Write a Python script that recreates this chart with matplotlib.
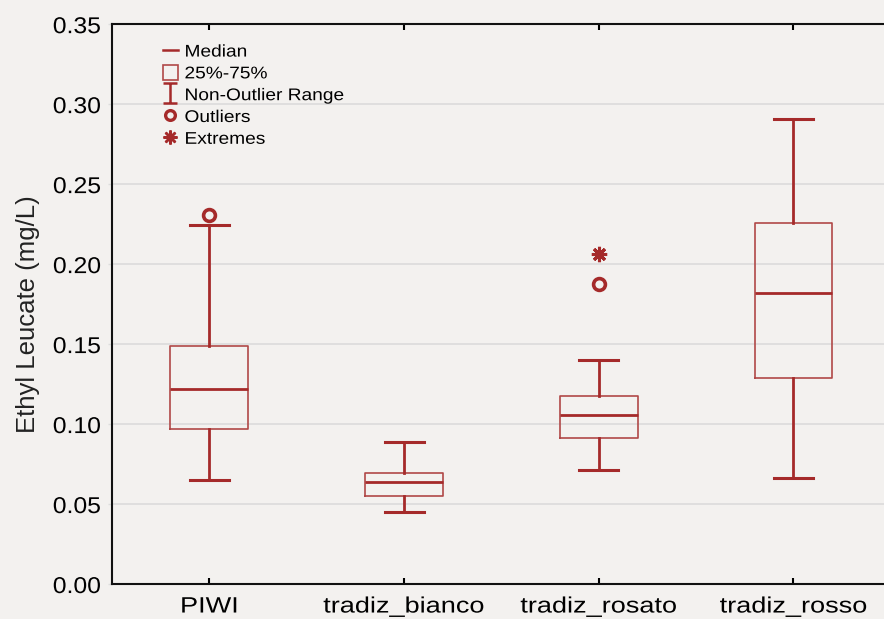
import matplotlib
matplotlib.use("Agg")
import matplotlib.pyplot as plt
from matplotlib.lines import Line2D
from matplotlib.patches import Rectangle
from matplotlib.path import Path
from matplotlib.patheffects import AbstractPathEffect
from matplotlib.transforms import Affine2D
import numpy as np

plt.rcParams['font.family'] = ['Liberation Sans', 'DejaVu Sans']

categories = ["PIWI", "tradiz_bianco", "tradiz_rosato", "tradiz_rosso"]
whisker_low = [0.065, 0.045, 0.0713, 0.0663]
q1 = [0.0969, 0.0550, 0.0913, 0.1288]
median = [0.1220, 0.0638, 0.1056, 0.1819]
q3 = [0.1490, 0.0694, 0.1175, 0.2256]
whisker_high = [0.2244, 0.0888, 0.1400, 0.2906]
outliers = [[0.2305], [], [0.1875], []]
extremes = [[], [], [0.2060], []]

yticks = [0.00, 0.05, 0.10, 0.15, 0.20, 0.25, 0.30, 0.35]

red = "#a52a2a"
edge = "#b04848"
bg = "#f3f1ef"


class WideText(AbstractPathEffect):
    """Draw glyphs widened along the text direction, keeping an anchor fixed."""

    def __init__(self, sx=1.1, anchor="center"):
        super().__init__()
        self.sx = sx
        self.anchor = anchor

    def draw_path(self, renderer, gc, tpath, affine, rgbFace=None):
        v = tpath.vertices
        if tpath.codes is not None and len(v):
            v = v[tpath.codes != Path.CLOSEPOLY]
        if len(v):
            xmin, xmax = v[:, 0].min(), v[:, 0].max()
        else:
            xmin = xmax = 0.0
        ref = {"left": 0.0, "center": (xmin + xmax) / 2, "right": xmax}[self.anchor]
        pre = Affine2D().translate(-ref, 0).scale(self.sx, 1).translate(ref, 0)
        renderer.draw_path(gc, tpath, pre + affine, rgbFace)


fig = plt.figure(figsize=(8.84, 6.19), dpi=100, facecolor=bg)
ax = fig.add_axes([0.1267, 0.0565, 0.881, 0.9045], facecolor=bg)

stats = []
for i, c in enumerate(categories):
    stats.append(dict(label=c, whislo=whisker_low[i], q1=q1[i], med=median[i],
                      q3=q3[i], whishi=whisker_high[i], fliers=[]))

pos = np.arange(len(categories))
ax.bxp(stats, positions=pos, widths=0.4, showfliers=False, patch_artist=False,
       boxprops=dict(color=edge, linewidth=1.2),
       medianprops=dict(color=red, linewidth=2),
       whiskerprops=dict(color=red, linewidth=2),
       capprops=dict(color=red, linewidth=2.2),
       capwidths=0.2)

for i in range(len(categories)):
    if outliers[i]:
        ax.plot([pos[i]] * len(outliers[i]), outliers[i], linestyle='none',
                marker='o', markersize=8.5, markerfacecolor='none',
                markeredgecolor=red, markeredgewidth=2.6, zorder=5)
    if extremes[i]:
        ax.plot([pos[i]] * len(extremes[i]), extremes[i], linestyle='none',
                marker=(8, 2, 0), markersize=11, color=red,
                markeredgewidth=2.2, zorder=5)

ax.set_xlim(-0.5, 3.5)
ax.set_ylim(0, 0.35)
ax.set_yticks(yticks)
ax.set_yticklabels([f"{v:.2f}" for v in yticks], fontsize=16.5)
ax.set_xticks(pos)
ax.set_xticklabels(categories, fontsize=16)
ax.yaxis.grid(True, color="#d9d9d9", linewidth=1.1)
ax.set_axisbelow(True)
ax.tick_params(axis='x', direction='in', length=4, width=1.5, top=True, pad=9)
ax.tick_params(axis='y', direction='out', length=3, width=1, colors="#dddddd",
               labelcolor="black", pad=5)
for s in ax.spines.values():
    s.set_linewidth(1.5)
    s.set_color("#111111")
ax.set_ylabel("Ethyl Leucate (mg/L)", fontsize=18.5, color="#222222")
ax.yaxis.set_label_coords(-0.0924, 0.482)

for t in ax.get_xticklabels():
    t.set_path_effects([WideText(1.22, "center")])
for t in ax.get_yticklabels():
    t.set_path_effects([WideText(1.08, "right")])

# legend with I-shaped range glyph
ipath = Path([(-0.7, 1), (0.7, 1), (0, 1), (0, -1), (-0.7, -1), (0.7, -1)],
             [Path.MOVETO, Path.LINETO, Path.MOVETO, Path.LINETO, Path.MOVETO, Path.LINETO])
handles = [
    Line2D([], [], color=red, linewidth=1.8),
    Rectangle((0, 0), 1, 1, facecolor='none', edgecolor=edge, linewidth=1.2),
    Line2D([], [], linestyle='none', marker=ipath, markersize=15, color=red,
           markeredgewidth=1.8),
    Line2D([], [], linestyle='none', marker='o', markersize=7,
           markerfacecolor='none', markeredgecolor=red, markeredgewidth=2.4),
    Line2D([], [], linestyle='none', marker=(8, 2, 0), markersize=10,
           color=red, markeredgewidth=1.8),
]
labels = ["Median", "25%-75%", "Non-Outlier Range", "Outliers", "Extremes"]
leg = ax.legend(handles, labels, loc='upper left', bbox_to_anchor=(0.065, 0.966),
                frameon=False, fontsize=12.2, handlelength=0.88, handleheight=1.0,
                handletextpad=0.41, labelspacing=0.32, borderaxespad=0,
                borderpad=0)
for t in leg.get_texts():
    t.set_path_effects([WideText(1.13, "left")])

fig.savefig("out.png", dpi=100, facecolor=bg)
